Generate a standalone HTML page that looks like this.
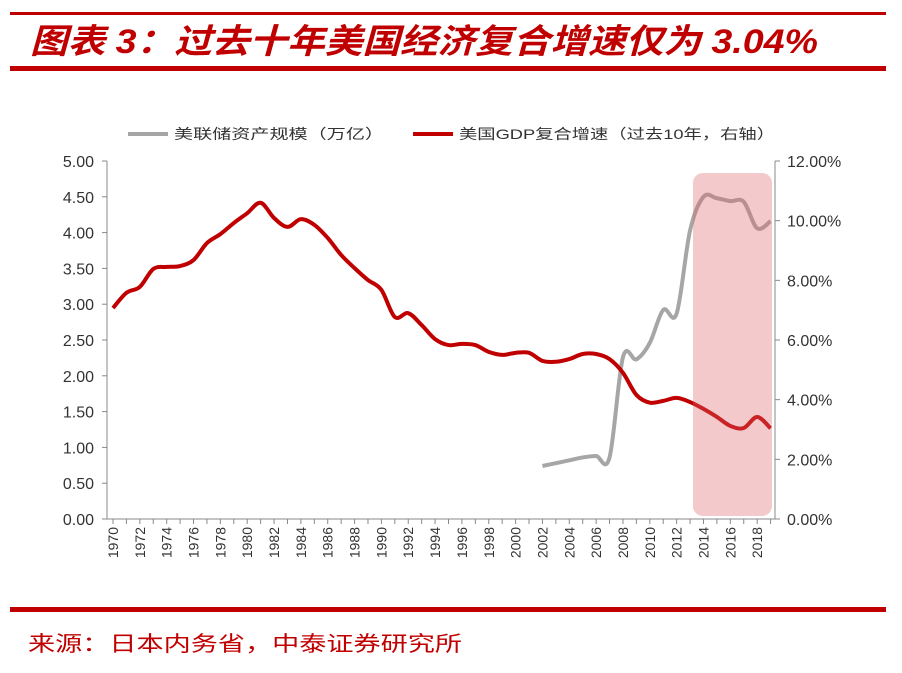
<!DOCTYPE html>
<html><head><meta charset="utf-8"><style>
body{margin:0;background:#fff;width:902px;height:668px;overflow:hidden;font-family:"Liberation Sans","Noto Sans CJK SC",sans-serif}
</style></head><body>
<svg width="902" height="668" xmlns="http://www.w3.org/2000/svg">
<rect x="10" y="12" width="876" height="3" fill="#c00000"/>
<text x="30" y="53" font-size="34" font-weight="bold" font-style="italic" fill="#c00000" textLength="788" lengthAdjust="spacingAndGlyphs" font-family="Liberation Sans,Noto Sans CJK SC,sans-serif">图表 3：过去十年美国经济复合增速仅为 3.04%</text>
<rect x="10" y="66" width="876" height="5" fill="#c00000"/>
<rect x="10" y="607" width="876" height="5" fill="#c00000"/>
<text x="28" y="651" font-size="21" fill="#c00000" textLength="434" lengthAdjust="spacingAndGlyphs" font-family="Liberation Sans,Noto Sans CJK SC,sans-serif">来源：日本内务省，中泰证券研究所</text>
<g font-size="14" fill="#333" font-family="Liberation Sans,Noto Sans CJK SC,sans-serif">
<line x1="128" y1="134" x2="168" y2="134" stroke="#a6a6a6" stroke-width="4"/>
<text x="174" y="139" textLength="210" lengthAdjust="spacingAndGlyphs">美联储资产规模（万亿）</text>
<line x1="413" y1="134" x2="453" y2="134" stroke="#c00000" stroke-width="4"/>
<text x="459" y="139" textLength="316" lengthAdjust="spacingAndGlyphs">美国GDP复合增速（过去10年，右轴）</text>
</g>
<g id="axes"></g>
<g id="series"></g>
<rect x="693" y="173" width="79" height="343" rx="10" fill="rgba(220,100,105,0.35)"/>
</svg>
<script>
const years=[];for(let y=1970;y<=2019;y++)years.push(y);
const gdpYears=years;
const gdpValues=[7.07,7.58,7.78,8.38,8.45,8.48,8.68,9.25,9.55,9.92,10.25,10.6,10.09,9.79,10.05,9.86,9.42,8.85,8.41,8.01,7.68,6.77,6.9,6.5,6.03,5.83,5.87,5.83,5.6,5.5,5.57,5.57,5.3,5.27,5.36,5.53,5.53,5.36,4.9,4.16,3.9,3.96,4.06,3.92,3.69,3.42,3.12,3.05,3.42,3.04];
const fedYears=[2002,2003,2004,2005,2006,2007,2008,2009,2010,2011,2012,2013,2014,2015,2016,2017,2018,2019];
const fedValues=[0.74,0.78,0.82,0.86,0.88,0.86,2.26,2.23,2.46,2.92,2.87,4.03,4.50,4.48,4.44,4.43,4.06,4.16];
const leftTicks=["0.00","0.50","1.00","1.50","2.00","2.50","3.00","3.50","4.00","4.50","5.00"];
const rightTicks=["0.00%","2.00%","4.00%","6.00%","8.00%","10.00%","12.00%"];
const NS="http://www.w3.org/2000/svg";
const X0=113,DX=13.42,Y0=519,Y1=161;
const xs=y=>X0+(y-1970)*DX;
const yl=v=>Y0-(v/5)*(Y0-Y1);
const yr=v=>Y0-(v/12)*(Y0-Y1);
function mk(tag,attrs,parent){const e=document.createElementNS(NS,tag);for(const k in attrs)e.setAttribute(k,attrs[k]);parent.appendChild(e);return e;}
const ax=document.getElementById('axes');
let e;
e=mk('line',{x1:107,y1:Y1,x2:107,y2:Y0,stroke:'#888','stroke-width':1},ax);


e=mk('line',{x1:775,y1:Y1,x2:775,y2:Y0,stroke:'#888','stroke-width':1},ax);


e=mk('line',{x1:107,y1:Y0,x2:775,y2:Y0,stroke:'#888','stroke-width':1},ax);


leftTicks.forEach((t,i)=>{const y=yl(parseFloat(t));
 mk('line',{x1:102,y1:y,x2:107,y2:y,stroke:'#888'},ax);
 e=mk('text',{x:94,y:y+6,'text-anchor':'end','font-size':16,fill:'#333'},ax);e.textContent=t;
 
 });
rightTicks.forEach((t,i)=>{const y=yr(parseFloat(t));
 mk('line',{x1:775,y1:y,x2:780,y2:y,stroke:'#888'},ax);
 e=mk('text',{x:787,y:y+6,'font-size':16,fill:'#333'},ax);e.textContent=t;
 
 });
years.forEach(y=>{const x=xs(y);
 mk('line',{x1:x,y1:Y0,x2:x,y2:Y0+5,stroke:'#888'},ax);
 if(y%2===0){e=mk('text',{x:x+5,y:Y0+8,'text-anchor':'end','font-size':14,fill:'#333',transform:`rotate(-90 ${x+5} ${Y0+8})`},ax);e.textContent=y;
 
 }});
function smooth(pts){let d=`M${pts[0][0]},${pts[0][1]}`;for(let i=0;i<pts.length-1;i++){const p0=pts[i-1]||pts[i],p1=pts[i],p2=pts[i+1],p3=pts[i+2]||p2;
 d+=` C${p1[0]+(p2[0]-p0[0])/6},${p1[1]+(p2[1]-p0[1])/6} ${p2[0]-(p3[0]-p1[0])/6},${p2[1]-(p3[1]-p1[1])/6} ${p2[0]},${p2[1]}`;}return d;}
const sg=document.getElementById('series');
e=mk('path',{d:smooth(fedYears.map((y,i)=>[xs(y),yl(fedValues[i])])),fill:'none',stroke:'#a6a6a6','stroke-width':4,'stroke-linejoin':'round'},sg);


e=mk('path',{d:smooth(gdpYears.map((y,i)=>[xs(y),yr(gdpValues[i])])),fill:'none',stroke:'#c00000','stroke-width':4,'stroke-linejoin':'round'},sg);


</script>
</body></html>
